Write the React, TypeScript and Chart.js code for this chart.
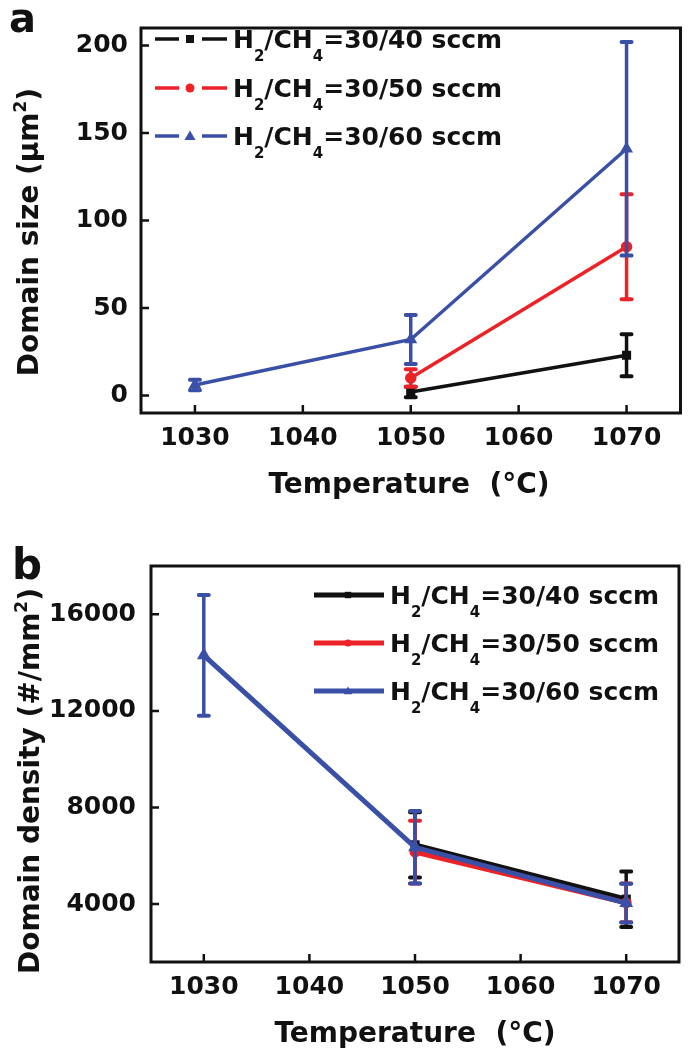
import React, { useEffect, useRef } from 'react';
import { Chart, registerables } from 'chart.js';

Chart.register(...registerables);

// ---------- data ----------
const seriesLabels = ['H_2/CH_4=30/40 sccm', 'H_2/CH_4=30/50 sccm', 'H_2/CH_4=30/60 sccm'];
const seriesColors = ['#111111', '#ec2227', '#3a50a6'];
const seriesMarkers = ['rect', 'circle', 'triangle'];

const xTicks = [1030, 1040, 1050, 1060, 1070];

// panel a: domain size (µm²)
const sizeTemps40 = [1050, 1070];
const size40 = [2, 23];
const sizeErr40 = [3, 12];
const sizeTemps50 = [1050, 1070];
const size50 = [10, 85];
const sizeErr50 = [5, 30];
const sizeTemps60 = [1030, 1050, 1070];
const size60 = [6, 32, 141];
const sizeErr60 = [3, 14, 61];
const sizeTicks = [0, 50, 100, 150, 200];

// panel b: domain density (#/mm²)
const densTemps40 = [1050, 1070];
const dens40 = [6450, 4200];
const densErr40 = [1350, 1150];
const densTemps50 = [1050, 1070];
const dens50 = [6150, 4050];
const densErr50 = [1300, 800];
const densTemps60 = [1030, 1050, 1070];
const dens60 = [14300, 6350, 4040];
const densErr60 = [2500, 1500, 800];
const densTicks = [4000, 8000, 12000, 16000];

const FONT = '"DejaVu Sans", "Liberation Sans", Arial, sans-serif';
const W = 688;
const H = 525;

function drawRich(ctx: CanvasRenderingContext2D, text: string, x: number, yBase: number, size: number, align: 'left' | 'center') {
  const parts: { t: string; k: number }[] = [];
  let buf = '';
  for (let i = 0; i < text.length; i++) {
    const c = text[i];
    if ((c === '_' || c === '^') && i + 1 < text.length) {
      if (buf) parts.push({ t: buf, k: 0 });
      buf = '';
      parts.push({ t: text[i + 1], k: c === '_' ? 1 : 2 });
      i++;
      continue;
    }
    buf += c;
  }
  if (buf) parts.push({ t: buf, k: 0 });
  const main = `bold ${size}px ${FONT}`;
  const small = `bold ${Math.round(size * 0.6)}px ${FONT}`;
  let w = 0;
  const widths = parts.map((p) => {
    ctx.font = p.k ? small : main;
    const m = ctx.measureText(p.t).width;
    w += m;
    return m;
  });
  let cx = align === 'center' ? x - w / 2 : x;
  ctx.textBaseline = 'alphabetic';
  ctx.textAlign = 'left';
  parts.forEach((p, j) => {
    ctx.font = p.k ? small : main;
    const dy = p.k === 1 ? size * 0.52 : p.k === 2 ? -size * 0.42 : 0;
    ctx.fillText(p.t, cx, yBase + dy);
    cx += widths[j];
  });
}

function drawMarker(ctx: CanvasRenderingContext2D, style: string, x: number, y: number, r: number, color: string) {
  ctx.fillStyle = color;
  ctx.beginPath();
  if (style === 'rect') {
    ctx.rect(x - r * 0.8, y - r * 0.8, r * 1.6, r * 1.6);
  } else if (style === 'circle') {
    ctx.arc(x, y, r * 0.9, 0, Math.PI * 2);
  } else {
    ctx.moveTo(x, y - r * 1.1);
    ctx.lineTo(x + r * 1.1, y + r * 0.8);
    ctx.lineTo(x - r * 1.1, y + r * 0.8);
    ctx.closePath();
  }
  ctx.fill();
}

type PanelCfg = {
  letter: string;
  letterX: number;
  letterY: number;
  letterSize: number;
  area: { l: number; t: number; r: number; b: number };
  yMin: number;
  yMax: number;
  yTicks: number[];
  yTickPad: number;
  yTitle: string;
  yTitleX: number;
  yTitleY: number;
  xTitleX: number;
  xTitleY: number;
  lineWidth: number;
  pointRadius: number;
  legend: { segs: number[][]; mx: number; textX: number; rows: number[]; lw: number; mr: number };
  series: { xs: number[]; ys: number[]; errs: number[] }[];
};

const panelA: PanelCfg = {
  letter: 'a', letterX: 9, letterY: 32, letterSize: 40,
  area: { l: 141, t: 10, r: 681, b: 413 },
  yMin: -10, yMax: 210, yTicks: sizeTicks, yTickPad: 13,
  yTitle: 'Domain size (μm^2)', yTitleX: 38, yTitleY: 232,
  xTitleX: 409, xTitleY: 493,
  lineWidth: 3.5, pointRadius: 4,
  legend: { segs: [[155, 179], [202, 227]], mx: 190, textX: 233, rows: [39, 88, 136], lw: 3.5, mr: 5 },
  series: [
    { xs: sizeTemps40, ys: size40, errs: sizeErr40 },
    { xs: sizeTemps50, ys: size50, errs: sizeErr50 },
    { xs: sizeTemps60, ys: size60, errs: sizeErr60 },
  ],
};

const panelB: PanelCfg = {
  letter: 'b', letterX: 12, letterY: 54, letterSize: 42,
  area: { l: 151, t: 41, r: 686, b: 437 },
  yMin: 1600, yMax: 18000, yTicks: densTicks, yTickPad: 15,
  yTitle: 'Domain density (#/mm^2)', yTitleX: 39, yTitleY: 256,
  xTitleX: 415, xTitleY: 517,
  lineWidth: 5, pointRadius: 3,
  legend: { segs: [[314, 384]], mx: 348, textX: 390, rows: [70, 118, 166], lw: 5, mr: 4 },
  series: [
    { xs: densTemps40, ys: dens40, errs: densErr40 },
    { xs: densTemps50, ys: dens50, errs: densErr50 },
    { xs: densTemps60, ys: dens60, errs: densErr60 },
  ],
};

function makePlugin(cfg: PanelCfg) {
  return {
    id: 'decor' + cfg.letter,
    afterDatasetDraw(chart: any, args: any) {
      const ctx: CanvasRenderingContext2D = chart.ctx;
      const s = cfg.series[args.index];
      const color = seriesColors[args.index];
      const yS = chart.scales.y;
      ctx.save();
      ctx.strokeStyle = color;
      args.meta.data.forEach((pt: any, i: number) => {
        const x = pt.x;
        const y1 = yS.getPixelForValue(s.ys[i] + s.errs[i]);
        const y2 = yS.getPixelForValue(s.ys[i] - s.errs[i]);
        ctx.lineWidth = 3.5;
        ctx.beginPath();
        ctx.moveTo(x, y1);
        ctx.lineTo(x, y2);
        ctx.stroke();
        ctx.lineWidth = 4;
        ctx.lineCap = 'round';
        ctx.beginPath();
        ctx.moveTo(x - 5, y1);
        ctx.lineTo(x + 5, y1);
        ctx.moveTo(x - 5, y2);
        ctx.lineTo(x + 5, y2);
        ctx.stroke();
        ctx.lineCap = 'butt';
      });
      ctx.restore();
    },
    afterDraw(chart: any) {
      const ctx: CanvasRenderingContext2D = chart.ctx;
      const a = chart.chartArea;
      const xS = chart.scales.x;
      const yS = chart.scales.y;
      ctx.save();
      // frame
      ctx.strokeStyle = '#111';
      ctx.lineWidth = 3;
      ctx.strokeRect(a.left, a.top, a.right - a.left, a.bottom - a.top);
      // inward ticks
      ctx.lineWidth = 2.5;
      ctx.beginPath();
      xTicks.forEach((v) => {
        const x = xS.getPixelForValue(v);
        ctx.moveTo(x, a.bottom);
        ctx.lineTo(x, a.bottom - 8);
      });
      cfg.yTicks.forEach((v) => {
        const y = yS.getPixelForValue(v);
        ctx.moveTo(a.left, y);
        ctx.lineTo(a.left + 8, y);
      });
      ctx.stroke();
      // legend
      const L = cfg.legend;
      seriesLabels.forEach((lab, i) => {
        const y = L.rows[i];
        ctx.strokeStyle = seriesColors[i];
        ctx.lineWidth = L.lw;
        ctx.beginPath();
        L.segs.forEach((sg) => {
          ctx.moveTo(sg[0], y);
          ctx.lineTo(sg[1], y);
        });
        ctx.stroke();
        drawMarker(ctx, seriesMarkers[i], L.mx, y, L.mr, seriesColors[i]);
        ctx.fillStyle = '#111';
        drawRich(ctx, lab, L.textX, y + 9, 25, 'left');
      });
      // titles
      ctx.fillStyle = '#111';
      drawRich(ctx, 'Temperature  (°C)', cfg.xTitleX, cfg.xTitleY, 28, 'center');
      ctx.save();
      ctx.translate(cfg.yTitleX, cfg.yTitleY);
      ctx.rotate(-Math.PI / 2);
      drawRich(ctx, cfg.yTitle, 0, 0, 28, 'center');
      ctx.restore();
      // panel letter
      ctx.font = `bold ${cfg.letterSize}px ${FONT}`;
      ctx.textAlign = 'left';
      ctx.textBaseline = 'alphabetic';
      ctx.fillText(cfg.letter, cfg.letterX, cfg.letterY);
      ctx.restore();
    },
  };
}

function buildConfig(cfg: PanelCfg): any {
  const tickFont = { family: FONT, size: 25, weight: 'bold' as const };
  return {
    type: 'line',
    data: {
      datasets: cfg.series.map((s, i) => ({
        label: seriesLabels[i],
        data: s.xs.map((x, j) => ({ x, y: s.ys[j] })),
        order: cfg.series.length - i,
        borderColor: seriesColors[i],
        backgroundColor: seriesColors[i],
        pointBackgroundColor: seriesColors[i],
        pointBorderColor: seriesColors[i],
        pointStyle: seriesMarkers[i],
        pointRadius: cfg.pointRadius,
        borderWidth: cfg.lineWidth,
        tension: 0,
        fill: false,
      })),
    },
    options: {
      animation: false,
      responsive: false,
      layout: { padding: { left: 0, top: cfg.area.t, right: W - cfg.area.r, bottom: 0 } },
      plugins: { legend: { display: false }, tooltip: { enabled: false } },
      scales: {
        x: {
          type: 'linear',
          min: 1025,
          max: 1075,
          afterBuildTicks: (s: any) => {
            s.ticks = xTicks.map((v) => ({ value: v }));
          },
          afterFit: (s: any) => {
            s.height = H - cfg.area.b;
          },
          grid: { display: false, drawTicks: false },
          border: { display: false },
          ticks: { padding: 10, color: '#111', font: tickFont, callback: (v: any) => String(v), maxRotation: 0 },
        },
        y: {
          type: 'linear',
          min: cfg.yMin,
          max: cfg.yMax,
          afterBuildTicks: (s: any) => {
            s.ticks = cfg.yTicks.map((v) => ({ value: v }));
          },
          afterFit: (s: any) => {
            s.width = cfg.area.l;
          },
          grid: { display: false, drawTicks: false },
          border: { display: false },
          ticks: { padding: cfg.yTickPad, color: '#111', font: tickFont, callback: (v: any) => String(v) },
        },
      },
    },
    plugins: [makePlugin(cfg)],
  };
}

function Panel({ cfg }: { cfg: PanelCfg }) {
  const ref = useRef<HTMLCanvasElement>(null);
  useEffect(() => {
    const chart = new Chart(ref.current as HTMLCanvasElement, buildConfig(cfg));
    return () => chart.destroy();
  }, [cfg]);
  return <canvas ref={ref} width={W} height={H} style={{ display: 'block', width: W, height: H }} />;
}

export default function App() {
  return (
    <div style={{ position: 'absolute', left: 0, top: 0, width: W, height: 2 * H, background: '#fff' }}>
      <Panel cfg={panelA} />
      <Panel cfg={panelB} />
    </div>
  );
}
